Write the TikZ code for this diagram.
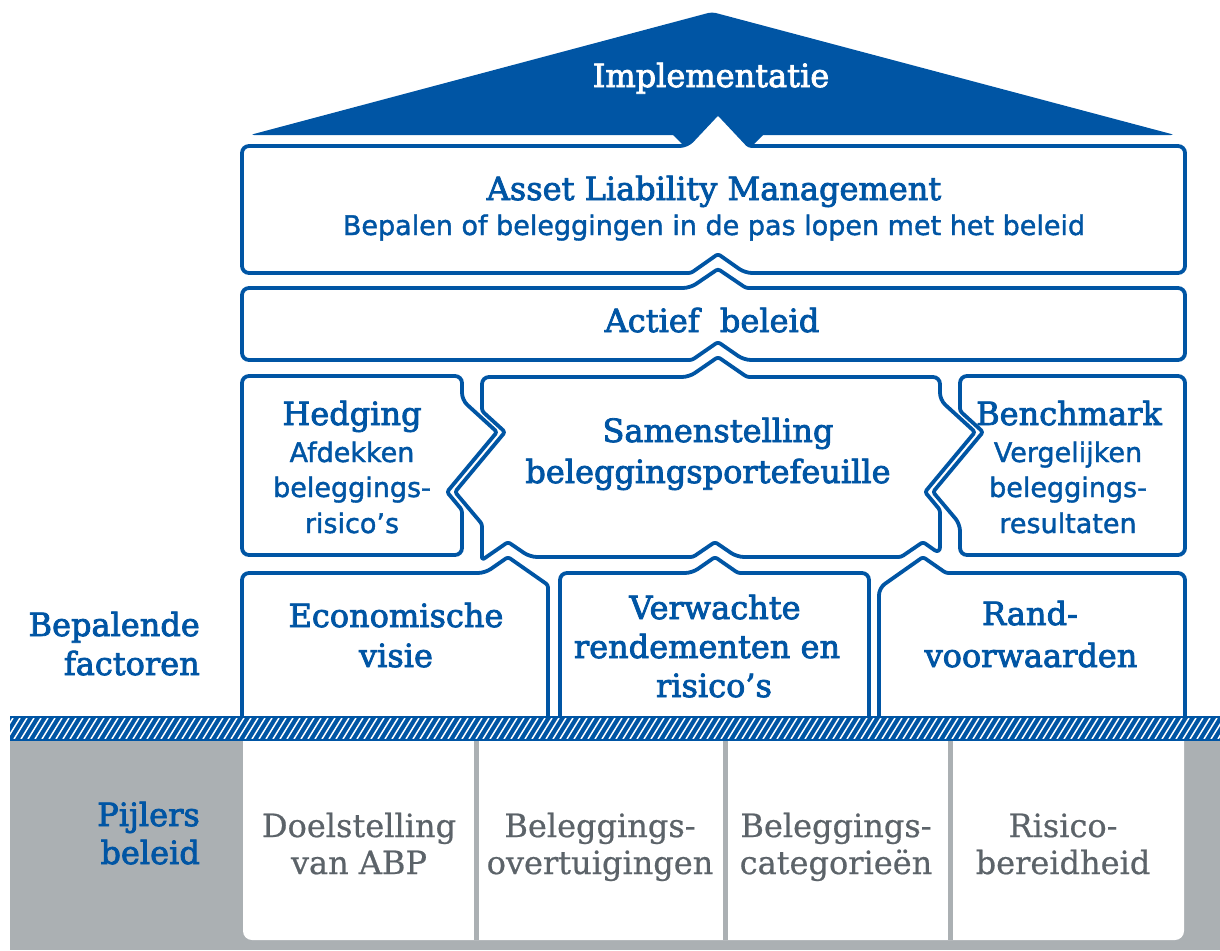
\documentclass[tikz,border=0pt]{standalone}
\usepackage{fontspec}
\setmainfont{DejaVu Serif}
\newfontfamily\hdfont[FakeBold=2.5]{DejaVu Serif}
\newfontfamily\grfont[FakeBold=0.6]{DejaVu Serif}
\newfontfamily\sansfont[FakeBold=1.5]{DejaVu Sans}
\definecolor{abpblue}{RGB}{0,85,164}
\definecolor{bggrey}{RGB}{171,176,179}
\definecolor{txtgrey}{RGB}{92,99,105}
\begin{document}
\begin{tikzpicture}[x=1pt,y=-1pt,
  box/.style={draw=abpblue, line width=3.8pt, fill=white, rounded corners=7pt, line join=round},
  sc/.style={rounded corners=2.5pt},
  rc/.style={rounded corners=7pt},
  hd/.style={font=\hdfont\fontsize{32}{36}\selectfont, text=abpblue, anchor=base, inner sep=0pt},
  sub/.style={font=\sansfont\fontsize{27}{30}\selectfont, text=abpblue, anchor=base, inner sep=0pt},
  gr/.style={font=\grfont\fontsize{32}{36}\selectfont, text=txtgrey, anchor=base, inner sep=0pt},
  lab/.style={font=\hdfont\fontsize{32}{36}\selectfont, text=abpblue, anchor=base east, inner sep=0pt}]
\useasboundingbox (0,0) rectangle (1220,950);

% roof
\fill[abpblue, rounded corners=4pt] (250,135) -- (712,12) -- (1175,135) -- cycle;
\fill[abpblue] (672,134) -- (686,148) -- (750,148) -- (764,134) -- cycle;

% ALM
\draw[box] (242,146) -- (687,146) [sc] -- (718,113) -- (749,146) [rc] -- (1185,146) -- (1185,273)
  -- (745,273) [sc] -- (718,254) -- (691,273) [rc] -- (242,273) -- cycle;
% Actief beleid
\draw[box] (242,288) -- (690,288) [sc] -- (718,269) -- (746,288) [rc] -- (1185,288) -- (1185,360)
  -- (744,360) [sc] -- (718,342) -- (692,360) [rc] -- (242,360) -- cycle;
% Hedging
\draw[box] (242,376) -- (462,376) -- (462,400) [sc] -- (497,432) -- (447,492) -- (462,510) [rc]
  -- (462,555) -- (242,555) -- cycle;
% Benchmark
\draw[box] (960,376) -- (1185,376) -- (1185,555) -- (960,555) -- (960,524) [sc] -- (933,492)
  -- (983,432) -- (960,411) [rc] -- cycle;
% Samenstelling
\draw[box] (482,377) -- (689,377) [sc] -- (718,357) -- (747,377) [rc] -- (940,377) -- (940,400) [sc]
  -- (975,432) -- (925,492) -- (940,510) [rc] -- (940,554) [sc] -- (923,542)
  -- (901,557) [rc] -- (737,557) [sc] -- (715,542) -- (693,557) [rc] -- (530,557) [sc] -- (508,542)
  -- (482,560) -- (482,524) -- (455,492) -- (505,432) -- (482,411) [rc] -- cycle;

% factor boxes
\draw[box] (242,717) -- (242,573) -- (485,573) [sc] -- (508,557) -- (548,585) [rc] -- (548,717);
\draw[box] (560,717) -- (560,573) -- (692,573) [sc] -- (715,557) -- (738,573) [rc] -- (869,573) -- (869,717);
\draw[box] (879,717) -- (879,588) [sc] -- (923,557) -- (946,573) [rc] -- (1185,573) -- (1185,717);

% base: grey area and pillars
\fill[bggrey] (10,738) rectangle (1220,950);
\fill[white, rounded corners=9pt] (243,730) -- (243,940) -- (1184,940) -- (1184,730) -- cycle;
\foreach \xd in {476,725,950} \draw[bggrey, line width=5pt] (\xd,738) -- (\xd,940);

% hatched band
\fill[abpblue] (10,716) rectangle (1220,741);
\begin{scope}
  \clip (10,718.5) rectangle (1220,738.5);
  \foreach \i in {0,7,...,1250} \draw[white, line width=1.5pt] (\i,739) -- ({\i+13},718);
\end{scope}

% texts
\node[hd, text=white] (impl) at (711,87) {Implementatie};
\node[hd] (alm) at (714,200) {Asset Liability Management};
\node[sub] (almsub) at (714,235) {Bepalen of beleggingen in de pas lopen met het beleid};
\node[hd] (actief) at (712,332) {Actief\ \ beleid};

\node[hd] (hedg1) at (352,425) {Hedging};
\node[sub] (hedg2) at (352,462) {Afdekken};
\node[sub] (hedg3) at (352,497) {beleggings-};
\node[sub] (hedg4) at (352,533) {risico’s};

\node[hd] (sam1) at (718,442) {Samenstelling};
\node[hd] (sam2) at (708,483) {beleggingsportefeuille};

\node[hd] (bench1) at (1069,425) {Benchmark};
\node[sub] (bench2) at (1068,462) {Vergelijken};
\node[sub] (bench3) at (1068,497) {beleggings-};
\node[sub] (bench4) at (1068,533) {resultaten};

\node[lab] (bep1) at (200,636) {Bepalende};
\node[lab] (bep2) at (200,675) {factoren};

\node[hd] (eco1) at (396,627) {Economische};
\node[hd] (eco2) at (396,667) {visie};
\node[hd] (ver1) at (715,619) {Verwachte};
\node[hd] (ver2) at (707,658) {rendementen en};
\node[hd] (ver3) at (714,697) {risico’s};
\node[hd] (rand1) at (1030,625) {Rand-};
\node[hd] (rand2) at (1031,667) {voorwaarden};

\node[lab] (pij1) at (200,826) {Pijlers};
\node[lab] (pij2) at (200,864) {beleid};

\node[gr] (doel1) at (359,837) {Doelstelling};
\node[gr] (doel2) at (359,874) {van ABP};
\node[gr] (ovt1) at (600,837) {Beleggings-};
\node[gr] (ovt2) at (600,874) {overtuigingen};
\node[gr] (cat1) at (836,837) {Beleggings-};
\node[gr] (cat2) at (836,874) {categorieën};
\node[gr] (ris1) at (1063,837) {Risico-};
\node[gr] (ris2) at (1063,874) {bereidheid};
\end{tikzpicture}
\end{document}
